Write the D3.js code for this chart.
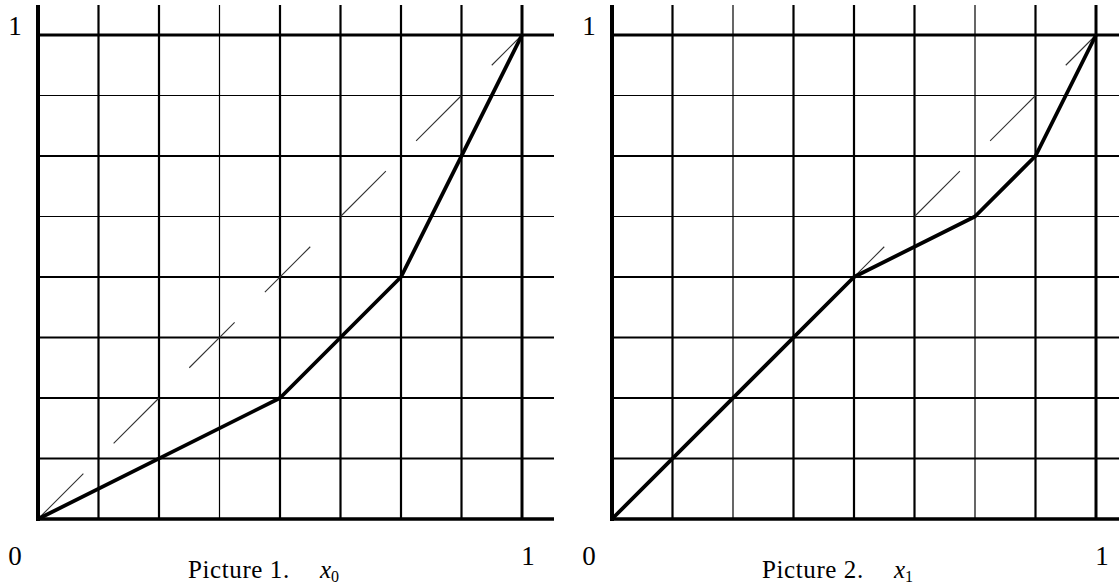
<!DOCTYPE html>
<html>
<head>
<meta charset="utf-8">
<script src="https://cdn.jsdelivr.net/npm/d3@7"></script>
<style>
  html, body { margin: 0; padding: 0; background: #fff; }
  svg { display: block; }
  text { font-family: "Liberation Serif", "DejaVu Serif", serif; fill: #000; }
</style>
</head>
<body>
<div id="chart"></div>
<script>
// grid divisions on [0, 1]
const gridTicks = [0.125, 0.25, 0.375, 0.5, 0.625, 0.75, 0.875, 1];

// piecewise linear curves, one per picture
const curve0X = [0, 0.5, 0.75, 1];
const curve0Y = [0, 0.25, 0.5, 1];
const curve1X = [0, 0.5, 0.75, 0.875, 1];
const curve1Y = [0, 0.5, 0.625, 0.75, 1];

const captions = ['Picture 1.', 'Picture 2.'];
const captionVars = ['0', '1'];

const w = 1119;
const h = 586;
const size = 484;
const plotTop = 35;

const panels = [
  { x0: 38, xs: curve0X, ys: curve0Y, thinV: [0.375], thinH: [0.625, 0.875] },
  { x0: 612, xs: curve1X, ys: curve1Y, thinV: [0.25, 0.75], thinH: [0.625, 0.875] }
];

const svg = d3.select('#chart')
  .append('svg')
  .attr('width', w)
  .attr('height', h);

panels.forEach((p, i) => {
  const x = d3.scaleLinear().domain([0, 1]).range([p.x0, p.x0 + size]);
  const y = d3.scaleLinear().domain([0, 1]).range([plotTop + size, plotTop]);
  const g = svg.append('g');

  // vertical grid lines, run above the top edge
  g.selectAll('line.v')
    .data(gridTicks)
    .enter()
    .append('line')
    .attr('class', 'v')
    .attr('x1', d => x(d))
    .attr('x2', d => x(d))
    .attr('y1', 5)
    .attr('y2', y(0))
    .attr('stroke', '#000')
    .attr('stroke-width', d => d === 1 ? 3 : (p.thinV.includes(d) ? 1.2 : 2.2));

  // horizontal grid lines, run past the right edge
  g.selectAll('line.h')
    .data(gridTicks)
    .enter()
    .append('line')
    .attr('class', 'h')
    .attr('x1', x(0))
    .attr('x2', x(1) + 32)
    .attr('y1', d => y(d))
    .attr('y2', d => y(d))
    .attr('stroke', '#000')
    .attr('stroke-width', d => d === 1 ? 3 : (p.thinH.includes(d) ? 1.2 : 2.2));

  // axes
  g.append('line')
    .attr('x1', x(0)).attr('x2', x(0))
    .attr('y1', 5).attr('y2', y(0) + 2)
    .attr('stroke', '#000').attr('stroke-width', 4);
  g.append('line')
    .attr('x1', x(0) - 2).attr('x2', x(1) + 32)
    .attr('y1', y(0)).attr('y2', y(0))
    .attr('stroke', '#000').attr('stroke-width', 3.5);

  // dashed diagonal
  const diagLen = Math.SQRT2 * size;
  g.append('line')
    .attr('x1', x(0)).attr('y1', y(0))
    .attr('x2', x(1)).attr('y2', y(1))
    .attr('stroke', '#333')
    .attr('stroke-width', 1.1)
    .attr('stroke-dasharray', (diagLen * 3 / 32) + ',' + (diagLen * 2 / 32));

  // curve
  const pts = p.xs.map((v, k) => [v, p.ys[k]]);
  g.append('path')
    .datum(pts)
    .attr('d', d3.line().x(d => x(d[0])).y(d => y(d[1])))
    .attr('fill', 'none')
    .attr('stroke', '#000')
    .attr('stroke-width', 3.8)
    .attr('stroke-linejoin', 'round');

  // labels
  g.append('text').text('1')
    .attr('x', x(0) - 23).attr('y', plotTop).attr('text-anchor', 'middle')
    .style('font-size', '27px');
  g.append('text').text('0')
    .attr('x', x(0) - 23).attr('y', 565).attr('text-anchor', 'middle')
    .style('font-size', '27px');
  g.append('text').text('1')
    .attr('x', x(1) + 6).attr('y', 565).attr('text-anchor', 'middle')
    .style('font-size', '27px');

  const cap = g.append('text')
    .attr('x', x(0) + 150).attr('y', 578)
    .style('font-size', '25px');
  cap.append('tspan').style('letter-spacing', '0.6px').text(captions[i]);
  cap.append('tspan').attr('x', x(0) + 282).style('font-style', 'italic').text('x');
  cap.append('tspan').attr('dy', 4).style('font-size', '16px').text(captionVars[i]);
});
</script>
</body>
</html>
